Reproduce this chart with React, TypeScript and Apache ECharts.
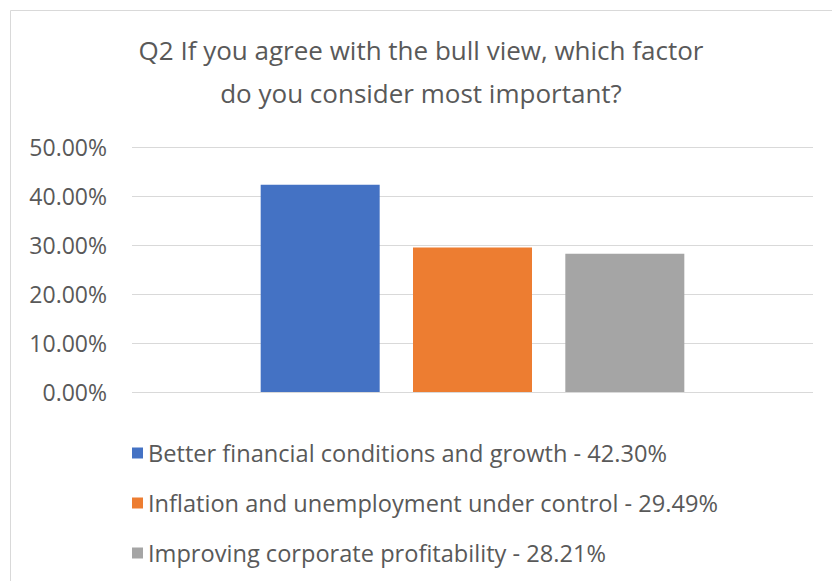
import React, { useEffect, useRef } from "react";
import * as echarts from "echarts";

const categories = [""];
const seriesNames = [
  "Better financial conditions and growth",
  "Inflation and unemployment under control",
  "Improving corporate profitability",
];
const seriesValues = [42.3, 29.49, 28.21];
const seriesColors = ["#4472C4", "#ED7D31", "#A5A5A5"];
const titleText = "Q2 If you agree with the bull view, which factor\ndo you consider most important?";

export default function App() {
  const ref = useRef<HTMLDivElement>(null);
  useEffect(() => {
    if (!ref.current) return;
    const chart = echarts.init(ref.current, undefined, { renderer: "svg" });
    const font = "'Open Sans', sans-serif";
    chart.setOption({
      animation: false,
      backgroundColor: "#ffffff",
      title: {
        text: titleText,
        left: 416,
        textAlign: "center",
        top: 23,
        textStyle: {
          fontFamily: font,
          fontSize: 26,
          fontWeight: "normal",
          color: "#595959",
          lineHeight: 43,
        },
      },
      graphic: [
        {
          type: "rect",
          shape: { x: 10.5, y: 10.5, width: 830, height: 580 },
          style: { fill: "none", stroke: "#d9d9d9", lineWidth: 1 },
          silent: true,
        },
      ],
      legend: {
        orient: "vertical",
        left: 127,
        top: 435,
        itemWidth: 11,
        itemHeight: 11,
        itemGap: 24,
        icon: "rect",
        textStyle: {
          fontFamily: font,
          fontSize: 23.6,
          color: "#595959",
          lineHeight: 26,
        },
        formatter: (name: string) => {
          const i = seriesNames.indexOf(name);
          return `${name} - ${seriesValues[i].toFixed(2)}%`;
        },
        data: seriesNames,
      },
      grid: { left: 132, right: 19, top: 147, bottom: 189 },
      xAxis: {
        type: "category",
        data: categories,
        axisLine: { show: false },
        axisTick: { show: false },
        axisLabel: { show: false },
      },
      yAxis: {
        type: "value",
        min: 0,
        max: 50,
        interval: 10,
        axisLine: { show: false },
        axisTick: { show: false },
        splitLine: { lineStyle: { color: "#d9d9d9", width: 1 } },
        axisLabel: {
          fontFamily: font,
          fontSize: 23,
          color: "#595959",
          margin: 25,
          formatter: (v: number) => `${v.toFixed(2)}%`,
        },
      },
      series: seriesNames.map((name, i) => ({
        name,
        type: "bar",
        data: [seriesValues[i]],
        barWidth: 119,
        barGap: "28%",
        itemStyle: { color: seriesColors[i] },
      })),
    });
    return () => chart.dispose();
  }, []);
  return (
    <div
      ref={ref}
      style={{ position: "absolute", left: 0, top: 0, width: 832, height: 581 }}
    />
  );
}
